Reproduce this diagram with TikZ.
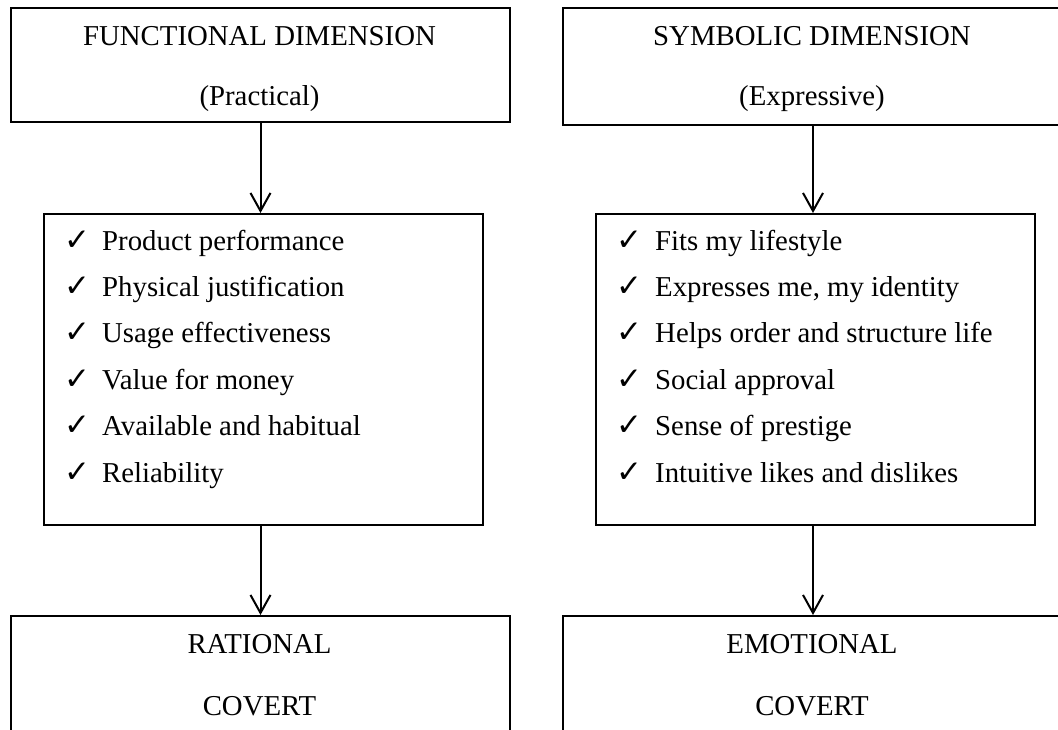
\documentclass[tikz,border=0pt]{standalone}
\usepackage{fontspec}
\setmainfont{Liberation Serif}
\newfontfamily\symfont{DejaVu Sans}
\usetikzlibrary{arrows.meta}
\begin{document}
\begin{tikzpicture}[x=1pt,y=-1pt,
  box/.style={draw,line width=2pt,rectangle,inner sep=0pt,anchor=north west},
  txt/.style={font=\fontsize{28.8}{34}\selectfont,anchor=base,inner sep=0pt},
  item/.style={font=\fontsize{28.8}{34}\selectfont,anchor=base west,inner sep=0pt},
  tick/.style={font=\symfont\fontsize{31}{36}\selectfont,anchor=base west,inner sep=0pt},
  arr/.style={line width=2pt,-{Straight Barb[length=18pt,width=20pt,line width=2pt]}}
]
\useasboundingbox (0,0) rectangle (1058,729);
\clip (0,0) rectangle (1058,729);
% boxes
\node[box,minimum width=499pt,minimum height=114pt] (fd) at (10,7) {};
\node[box,minimum width=500pt,minimum height=117pt] (sd) at (562,7) {};
\node[box,minimum width=439pt,minimum height=311pt] (fl) at (43,213) {};
\node[box,minimum width=439pt,minimum height=311pt] (sl) at (595,213) {};
\node[box,minimum width=499pt,minimum height=140pt] (rb) at (10,615) {};
\node[box,minimum width=500pt,minimum height=140pt] (eb) at (562,615) {};
% texts
\node[txt] (fdt1) at (259.5,45) {FUNCTIONAL DIMENSION};
\node[txt] (fdt2) at (259.5,105) {(Practical)};
\node[txt] (sdt1) at (812,45) {SYMBOLIC DIMENSION};
\node[txt] (sdt2) at (812,105) {(Expressive)};
\node[txt] (rbt1) at (259.5,653) {RATIONAL};
\node[txt] (rbt2) at (259.5,715) {COVERT};
\node[txt] (ebt1) at (812,653) {EMOTIONAL};
\node[txt] (ebt2) at (812,715) {COVERT};
% lists
\foreach \t [count=\i from 0] in {Product performance,Physical justification,Usage effectiveness,Value for money,Available and habitual,Reliability}{
  \node[tick] (fc\i) at (64,250+46.4*\i) {✓};
  \node[item] (fi\i) at (102,250+46.4*\i) {\t};
}
\foreach \t [count=\i from 0] in {Fits my lifestyle,{Expresses me, my identity},Helps order and structure life,Social approval,Sense of prestige,Intuitive likes and dislikes}{
  \node[tick] (sc\i) at (616,250+46.4*\i) {✓};
  \node[item] (si\i) at (655,250+46.4*\i) {\t};
}
% arrows
\draw[arr] (fd.south) -- (fd.south |- fl.north);
\draw[arr] (sd.south) -- (sd.south |- sl.north);
\draw[arr] (fd.south |- fl.south) -- (fd.south |- rb.north);
\draw[arr] (sd.south |- sl.south) -- (sd.south |- eb.north);
\end{tikzpicture}
\end{document}
